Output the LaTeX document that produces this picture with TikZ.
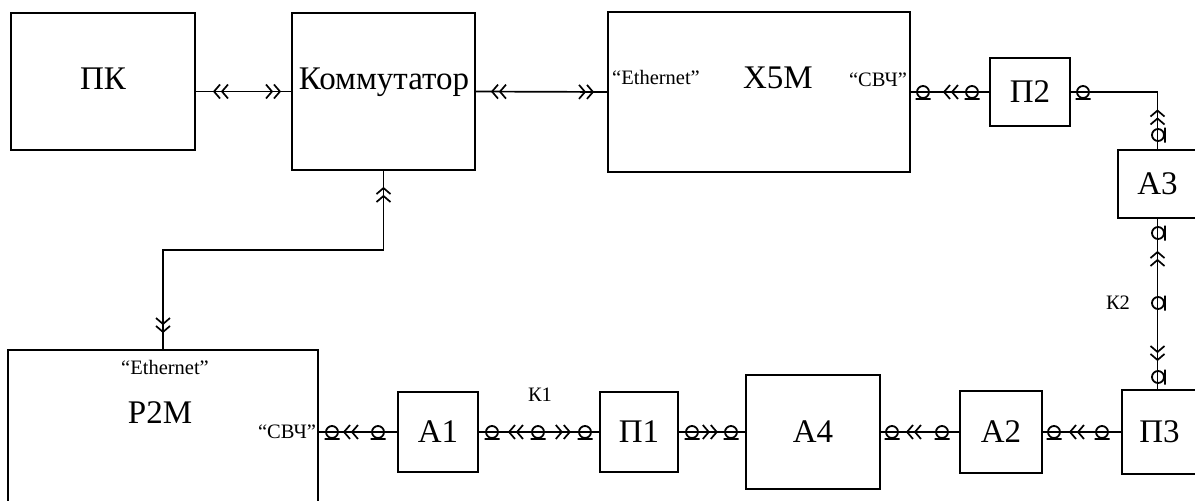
\documentclass[tikz,border=0pt]{standalone}
\usepackage{fontspec}
\setmainfont{Liberation Serif}
\usetikzlibrary{arrows.meta,decorations.markings}

\tikzset{
  chev/.tip={Straight Barb[length=6pt,width=14pt] Straight Barb[length=6pt,width=14pt]},
  blok/.style={draw,line width=1.8pt,inner sep=0pt,font=\fontsize{33}{36}\selectfont},
  boxtxt/.style={inner sep=0pt,anchor=base,font=\fontsize{33}{36}\selectfont},
  lbl/.style={inner sep=0pt,font=\fontsize{20.5}{22}\selectfont},
  link/.style={line width=1.7pt},
  fwd/.style={postaction={decorate,decoration={markings,mark=at position #1 with {\arrow{chev}}}}},
  bwd/.style={postaction={decorate,decoration={markings,mark=at position #1 with {\arrowreversed{chev}}}}},
  coaxh/.pic={\draw[line width=1.8pt] (0,0) circle (6) (-7.5,7) -- (7.5,7);},
  coaxv/.pic={\draw[line width=1.8pt] (0,0) circle (6) (7,-7.5) -- (7,7.5);}
}

\begin{document}
\begin{tikzpicture}[x=1pt,y=-1pt]
      \useasboundingbox (0,0) rectangle (1195,501);
      % upper row
      \node[blok,minimum width=184pt,minimum height=137pt] (pk) at (103,81.5) {};
      \node[blok,minimum width=183pt,minimum height=157pt] (kom) at (383.5,91.5) {};
      \node[blok,minimum width=302pt,minimum height=160pt] (x5m) at (759,92) {};
      \node[blok,minimum width=80pt,minimum height=68pt] (p2) at (1030,92) {П2};
      \node[blok,minimum width=79pt,minimum height=68pt] (a3) at (1157.5,184) {А3};
      \node[boxtxt] (pk-txt) at (103,89) {ПК};
      \node[boxtxt] (kom-txt) at (384,89) {Коммутатор};
      \node[boxtxt] (x5m-txt) at (778,88) {Х5М};
      \node[lbl,anchor=base] (x5m-eth) at (656,84) {“Ethernet”};
      \node[lbl,anchor=base] (x5m-svch) at (878,86) {“СВЧ”};
      % lower row
      \node[blok,minimum width=310pt,minimum height=180pt] (p2m) at (163,440) {};
      \node[blok,minimum width=80pt,minimum height=80pt] (a1) at (438,432) {А1};
      \node[blok,minimum width=78pt,minimum height=80pt] (p1) at (639,432) {П1};
      \node[blok,minimum width=134pt,minimum height=114pt] (a4) at (813,432) {А4};
      \node[blok,minimum width=82pt,minimum height=82pt] (a2) at (1001,432) {А2};
      \node[blok,minimum width=75pt,minimum height=84pt] (p3) at (1159.5,432) {П3};
      \node[boxtxt] (p2m-txt) at (160,423) {Р2М};
      \node[lbl] (p2m-eth) at (165,367) {“Ethernet”};
      \node[lbl] (p2m-svch) at (287,432) {“СВЧ”};
      \node[lbl] (k1) at (540,395) {К1};
      \node[lbl] (k2) at (1118,303) {К2};

      % ethernet links
      \draw[link,bwd=17pt,fwd=-10pt] (pk.east |- kom.west) -- (kom.west);
      \draw[link,bwd=15pt,fwd=-13pt] (kom.east) -- (x5m.west);
      \draw[link,bwd=16pt,fwd=-16pt] (kom.south) -- (kom.south |- 0,250) -| (p2m.north);

      % microwave path
      \draw[link,bwd=32pt] (x5m.east) -- (p2.west);
      \pic at (923,92) {coaxh};
      \pic at (972,92) {coaxh};
      \draw[link,bwd=104pt] (p2.east) -| (a3.north);
      \pic at (1083,92) {coaxh};
      \pic at (1158,135) {coaxv};
      \draw[link,bwd=32pt,fwd=-28pt] (a3.south) -- (a3.south |- p3.north);
      \pic at (1158,233) {coaxv};
      \pic at (1158,303) {coaxv};
      \pic at (1158,377) {coaxv};
      \draw[link,bwd=26pt] (a2.east) -- (p3.west);
      \pic at (1054,432) {coaxh};
      \pic at (1102,432) {coaxh};
      \draw[link,bwd=25pt] (a4.east) -- (a2.west);
      \pic at (892,432) {coaxh};
      \pic at (942,432) {coaxh};
      \draw[link,fwd=39pt] (p1.east) -- (a4.west);
      \pic at (692,432) {coaxh};
      \pic at (731,432) {coaxh};
      \draw[link,bwd=29pt,fwd=92pt] (a1.east) -- (p1.west);
      \pic at (492,432) {coaxh};
      \pic at (538,432) {coaxh};
      \pic at (585,432) {coaxh};
      \draw[link,bwd=24pt] (p2m.east |- a1.west) -- (a1.west);
      \pic at (332,432) {coaxh};
      \pic at (378,432) {coaxh};
    \end{tikzpicture}
\end{document}
